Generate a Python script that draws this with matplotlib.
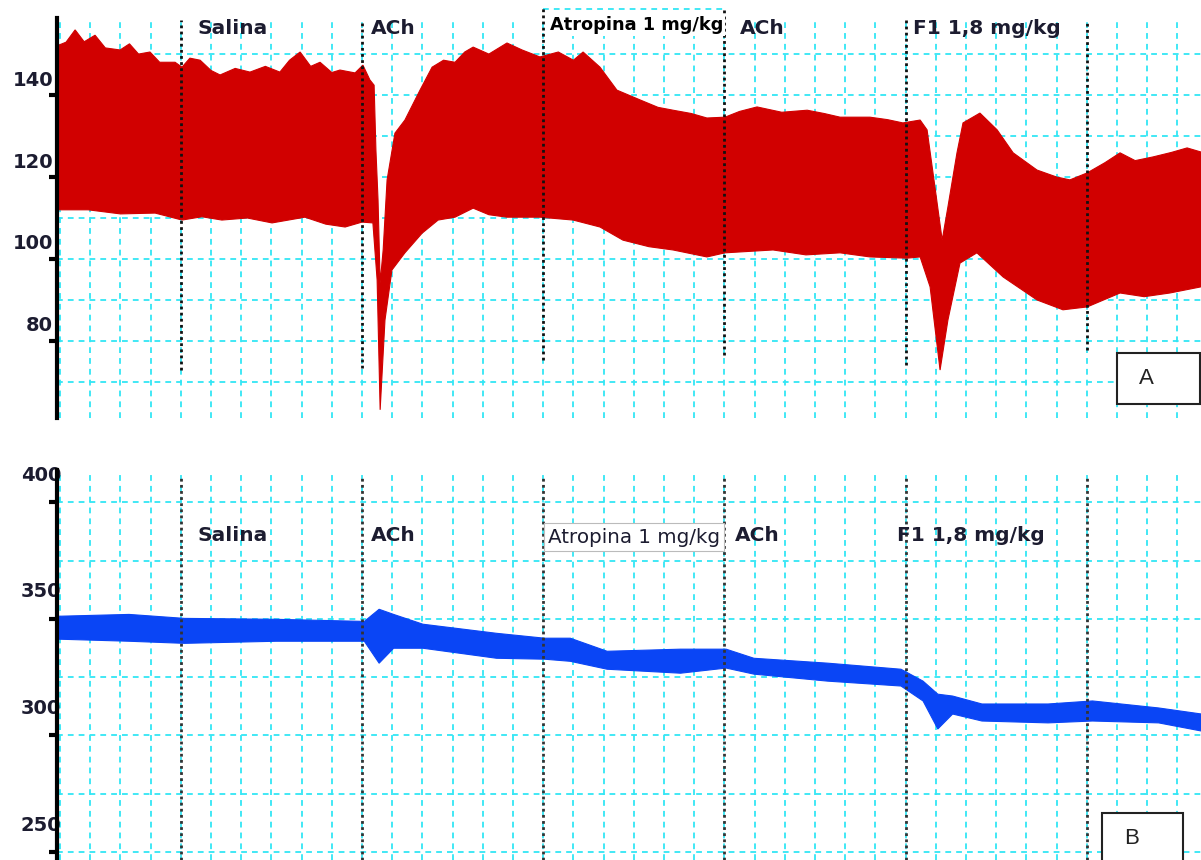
import numpy as np
import matplotlib
matplotlib.use("Agg")
import matplotlib.pyplot as plt
from matplotlib.patches import Rectangle
from matplotlib.transforms import offset_copy

# time axis in grid cells (one dashed cyan cell = 1 unit)
events = [4, 10, 16, 22, 28, 34]
event_labels = ["Salina", "ACh", "Atropina 1 mg/kg", "ACh", "F1 1,8 mg/kg"]

# panel A - pressure trace, upper and lower envelope
pa_up_x = [-0.1, 0.2, 0.5, 0.8, 1.16, 1.5, 1.99, 2.3, 2.6, 2.98, 3.3, 3.81, 4.04, 4.3,
           4.64, 5.0, 5.30, 5.8, 6.29, 6.8, 7.28, 7.6, 7.95, 8.3, 8.61, 9.0, 9.27, 9.77,
           10.03, 10.26, 10.40, 10.46, 10.53, 10.60, 10.70, 10.83, 11.09, 11.42, 11.92,
           12.32, 12.7, 13.08, 13.4, 13.68, 14.2, 14.80, 15.3, 15.89, 16.5, 17.0, 17.32,
           17.88, 18.44, 19.21, 19.8, 20.30, 20.9, 21.42, 22.02, 22.5, 23.08, 23.9, 24.74,
           25.3, 25.83, 26.82, 27.4, 27.91, 28.48, 28.71, 28.97, 29.21, 29.40, 29.70,
           29.90, 30.46, 31.03, 31.56, 32.35, 33.0, 33.44, 34.01, 34.6, 35.10, 35.6,
           36.19, 36.8, 37.32, 37.78]
pa_up = [152.0, 152.9, 155.9, 153.0, 154.6, 151.5, 151.0, 152.5, 150.0, 150.5, 148.0,
         148.0, 146.8, 149.0, 148.5, 146.0, 144.9, 146.5, 145.6, 147.0, 145.6, 148.5,
         150.5, 147.0, 148.0, 145.5, 146.1, 145.4, 147.3, 143.7, 142.4, 126.6, 114.4,
         94.1, 102.2, 119.3, 130.7, 133.9, 141.2, 146.8, 148.5, 148.0, 150.5, 151.7,
         150.0, 152.7, 151.0, 149.3, 150.5, 148.5, 150.5, 146.8, 141.2, 138.8, 137.0,
         136.3, 135.5, 134.4, 134.6, 136.0, 137.1, 135.8, 136.3, 135.5, 134.6, 134.6,
         134.0, 133.2, 133.9, 131.5, 117.6, 104.6, 112.7, 125.9, 133.2, 135.6, 131.5,
         125.9, 121.7, 120.0, 119.3, 121.0, 123.5, 125.9, 124.0, 124.9, 126.0, 127.1,
         126.1]
pa_lo_x = [-0.1, 0.93, 2.0, 3.15, 4.04, 4.7, 5.36, 6.2, 7.02, 8.11, 8.8, 9.44, 10.0,
           10.36, 10.50, 10.60, 10.76, 10.99, 11.42, 11.99, 12.52, 13.08, 13.68, 14.2,
           14.80, 15.89, 16.99, 17.88, 18.64, 19.5, 20.30, 21.42, 22.02, 23.61, 24.7,
           25.83, 26.82, 28.05, 28.48, 28.81, 29.14, 29.40, 29.80, 30.36, 31.23, 32.35,
           33.21, 34.01, 35.10, 35.9, 36.75, 37.78]
pa_lo = [112.0, 112.0, 111.0, 111.2, 109.5, 110.3, 109.5, 110.0, 108.8, 110.2, 108.5,
         107.8, 109.0, 108.8, 94.9, 63.2, 85.1, 97.3, 101.5, 106.3, 109.5, 110.2, 112.4,
         110.8, 110.2, 110.2, 109.5, 107.8, 104.6, 103.0, 102.2, 100.5, 101.5, 102.2,
         101.0, 101.5, 100.5, 100.2, 100.5, 93.2, 72.9, 85.1, 99.0, 101.5, 95.6, 90.0,
         87.6, 88.3, 91.7, 90.8, 91.7, 93.2]

# panel B - second trace
pb_x = [-0.1, 2.27, 4.10, 7.14, 10.06, 10.55, 11.03, 12.0, 14.44, 16.03, 16.88, 18.10,
        20.53, 22.04, 22.96, 25.40, 27.83, 28.56, 29.05, 29.54, 30.51, 32.70, 34.17,
        36.36, 37.78]
pb_up = [351.3, 352.1, 350.4, 350.0, 349.1, 354.3, 352.1, 347.9, 344.0, 341.9, 341.9,
         336.3, 337.2, 337.2, 333.3, 331.2, 328.6, 323.5, 317.9, 317.1, 313.7, 313.7,
         315.0, 312.0, 309.4]
pb_lo = [341.5, 340.6, 339.7, 340.6, 340.6, 331.2, 337.6, 337.6, 333.3, 332.9, 332.0,
         328.6, 326.9, 329.1, 326.5, 323.5, 321.4, 315.0, 303.0, 309.4, 306.4, 305.6,
         306.4, 305.6, 302.1]

W, H = 1201, 860
CYAN = "#33e6f5"
RED = "#d10000"
BLUE = "#0a45f5"
LABEL = "#1c1c30"
GRID_LS = (0, (3.2, 2.8))

fig = plt.figure(figsize=(W / 100, H / 100), dpi=100)
axA = fig.add_axes([57 / W, 442 / H, 1144 / W, 400 / H])
axB = fig.add_axes([57 / W, 0, 1144 / W, 390 / H])


def setup(ax, ylim, major, minor, lab_dy, lab_dx):
    ax.set_xlim(-0.1, 37.78)
    ax.set_ylim(*ylim)
    ax.set_xticks(np.arange(0, 38, 1))
    ax.set_yticks(major)
    ax.set_yticks(minor, minor=True)
    ax.set_axisbelow(True)
    ax.grid(True, which="both", color=CYAN, lw=1.3, ls=GRID_LS)
    for s in ["top", "right", "bottom"]:
        ax.spines[s].set_visible(False)
    ax.spines["left"].set_linewidth(3)
    ax.spines["left"].set_zorder(10)
    ax.tick_params(axis="x", length=0, labelbottom=False)
    ax.tick_params(axis="y", which="major", length=6, width=3, direction="out",
                   labelleft=False)
    ax.tick_params(axis="y", which="minor", length=0)
    tr = offset_copy(ax.get_yaxis_transform(), fig=fig, x=lab_dx, y=lab_dy, units="dots")
    for v in major:
        ax.text(0, v, str(v), transform=tr, ha="right", va="center", fontsize=14,
                fontweight="bold", color=LABEL, zorder=5, clip_on=False)


setup(axA, (61.2, 158.8), [80, 100, 120, 140], np.arange(70, 160, 10), 15, -4)
setup(axB, (246.6, 413.8), [250, 300, 350, 400], np.arange(250, 425, 25), 27, 4)

# traces
axA.fill(np.concatenate([pa_up_x, pa_lo_x[::-1]]), np.concatenate([pa_up, pa_lo[::-1]]),
         color=RED, lw=0.8, zorder=3)
axB.fill_between(pb_x, pb_lo, pb_up, color=BLUE, lw=0.8, zorder=3)

# event markers
a_top = [158.3, 158.3, 161.2, 161.2, 158.3, 158.3]
a_bot = [72.9, 73.4, 75.4, 76.6, 74.1, 77.8]
axA.vlines(events, a_bot, a_top, colors="#111111", lw=2, ls=(0, (1, 1.2)),
           zorder=6, clip_on=False)
axB.vlines(events, 246.6, 411.6, colors="#333333", lw=2, ls=(0, (1, 1.2)), zorder=6)
axA.plot([16, 22], [160.9, 160.9], color=CYAN, lw=1.3, ls=GRID_LS,
         clip_on=False, zorder=4)

txA = axA.get_xaxis_transform()
txB = axB.get_xaxis_transform()
a_pos = [(4.54, 0.975), (10.3, 0.975), (16.22, 0.983), (22.5, 0.975), (28.25, 0.975)]
b_pos = [(4.54, 0.833), (10.3, 0.833), (16.16, 0.828), (22.35, 0.833), (27.7, 0.833)]
for lab, (x, y) in zip(event_labels, a_pos):
    if lab.startswith("Atropina"):
        axA.text(x, y, lab, transform=txA, ha="left", va="center", fontsize=12.8,
                 fontweight="bold", color="black", zorder=7,
                 bbox=dict(fc="white", ec="none", pad=1.5))
    else:
        axA.text(x, y, lab, transform=txA, ha="left", va="center", fontsize=14.5,
                 fontweight="bold", color=LABEL, zorder=7)
for lab, (x, y) in zip(event_labels, b_pos):
    if lab.startswith("Atropina"):
        axB.text(x, y, lab, transform=txB, ha="left", va="center", fontsize=14.3,
                 color=LABEL, zorder=7,
                 bbox=dict(fc="white", ec="#bbbbbb", lw=0.8, pad=3))
    else:
        axB.text(x, y, lab, transform=txB, ha="left", va="center", fontsize=14.5,
                 fontweight="bold", color=LABEL, zorder=7)

# panel letters
fig.add_artist(Rectangle((1117 / W, 456 / H), 83 / W, 51 / H, transform=fig.transFigure,
                         fc="white", ec="#222222", lw=1.5, zorder=20))
fig.text(1146 / W, 1 - 379 / H, "A", ha="center", va="center", fontsize=16,
         family="Liberation Sans", color="#222222", zorder=21)
fig.add_artist(Rectangle((1102 / W, -2 / H), 81 / W, 49 / H, transform=fig.transFigure,
                         fc="white", ec="#222222", lw=1.5, zorder=20))
fig.text(1131.5 / W, 1 - 838 / H, "B", ha="center", va="center", fontsize=16,
         family="Liberation Sans", color="#222222", zorder=21)

fig.savefig("out.png", dpi=100, facecolor="white")
